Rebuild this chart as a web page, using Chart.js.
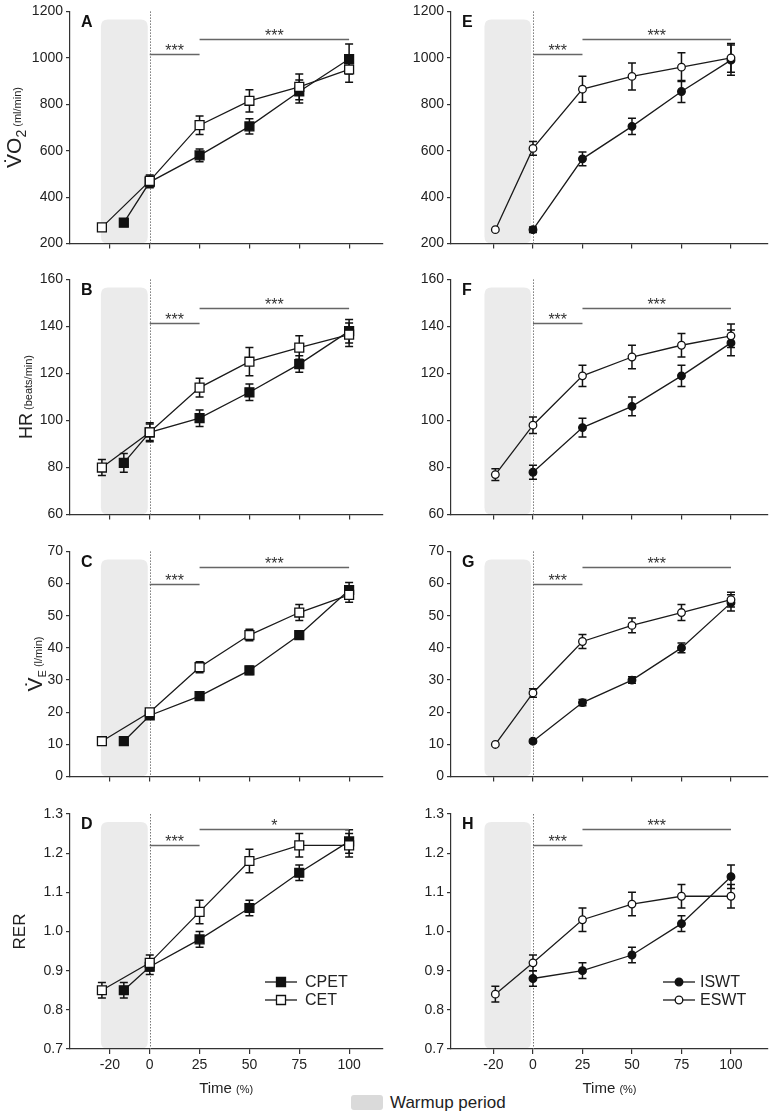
<!DOCTYPE html>
<html>
<head>
<meta charset="utf-8">
<script src="https://cdn.jsdelivr.net/npm/chart.js@4.4.1/dist/chart.umd.min.js"></script>
<style>
    body { margin: 0; background: #fff; }
    #figure { position: relative; width: 776px; height: 1116px; background: #fff; overflow: hidden;
              font-family: 'Liberation Sans', Arial, Helvetica, sans-serif; }
    #figure canvas { position: absolute; }
    .warmup-key { position: absolute; left: 351px; top: 1095px; width: 32px; height: 15px;
                  background: #dadada; border-radius: 3px; }
    .warmup-label { position: absolute; left: 390px; top: 1093px; font-size: 17px; line-height: 20px; color: #222; }
</style>
</head>
<body>
<div id="figure">
    <div class="warmup-key"></div>
    <div class="warmup-label">Warmup period</div>
</div>
<script>
// ===================== DATA =====================
// Time as % of test duration; warmup points sit left of 0
const xTicks = [-20, 0, 25, 50, 75, 100];
const cpetTime = [-13, 0, 25, 50, 75, 100];
const cetTime = [-24, 0, 25, 50, 75, 100];
const iswtTime = [0, 25, 50, 75, 100];
const eswtTime = [-19, 0, 25, 50, 75, 100];
const warmupRange = [-24.5, -1];

// VO2 (ml/min)
const cpetVO2 = [290, 465, 580, 705, 855, 995];
const cpetVO2Err = [0, 25, 27, 33, 50, 65];
const cetVO2 = [270, 470, 710, 815, 875, 950];
const cetVO2Err = [0, 25, 40, 48, 55, 55];
const iswtVO2 = [260, 565, 705, 855, 990];
const iswtVO2Err = [12, 30, 35, 47, 65];
const eswtVO2 = [260, 610, 865, 920, 960, 1000];
const eswtVO2Err = [0, 30, 56, 58, 62, 62];

// HR (beats/min)
const cpetHR = [82, 95, 101, 112, 124, 138];
const cpetHRErr = [4, 3.5, 3.5, 3.5, 3.5, 5];
const cetHR = [80, 95, 114, 125, 131, 136.5];
const cetHRErr = [3.4, 4, 4, 6, 5, 5];
const iswtHR = [78, 97, 106, 119, 133];
const iswtHRErr = [3, 4, 4, 4.5, 5.5];
const eswtHR = [77, 98, 119, 127, 132, 136];
const eswtHRErr = [2.5, 3.5, 4.5, 5, 5, 5];

// VE (l/min)
const cpetVE = [11, 19, 25, 33, 44, 58];
const cpetVEErr = [0, 0.5, 1, 1.3, 1.2, 2.3];
const cetVE = [11, 20, 34, 44, 51, 56.5];
const cetVEErr = [0, 0.8, 1.7, 1.8, 2.5, 2.3];
const iswtVE = [11, 23, 30, 40, 54];
const iswtVEErr = [0.5, 1, 1, 1.5, 2.5];
const eswtVE = [10, 26, 42, 47, 51, 55];
const eswtVEErr = [0, 1.3, 2.2, 2.3, 2.5, 2.3];

// RER
const cpetRER = [0.85, 0.91, 0.98, 1.06, 1.15, 1.23];
const cpetRERErr = [0.02, 0.02, 0.02, 0.02, 0.02, 0.03];
const cetRER = [0.85, 0.92, 1.05, 1.18, 1.22, 1.22];
const cetRERErr = [0.02, 0.02, 0.03, 0.03, 0.03, 0.03];
const iswtRER = [0.88, 0.90, 0.94, 1.02, 1.14];
const iswtRERErr = [0.02, 0.02, 0.02, 0.02, 0.03];
const eswtRER = [0.84, 0.92, 1.03, 1.07, 1.09, 1.09];
const eswtRERErr = [0.02, 0.02, 0.03, 0.03, 0.03, 0.03];

// ===================== LAYOUT =====================
const FONT = "'Liberation Sans', Arial, Helvetica, sans-serif";
const INK = '#1a1a1a';

const columns = [
    { left: 0, width: 390, axisLeft: 70, padRight: 0, xMin: -40, xMax: 116.7 },
    { left: 390, width: 386, axisLeft: 61, padRight: 8, xMin: -41.4, xMax: 118.7 }
];
const rows = [
    { top: 0, padTop: 9, bottom: 245, xHeight: 10 },
    { top: 268, padTop: 10, bottom: 516, xHeight: 10 },
    { top: 540, padTop: 10, bottom: 778, xHeight: 10 },
    { top: 800, padTop: 14, bottom: 1049, xHeight: 67 }
];

function series(label, times, values, errors, filled, shape) {
    return {
        label: label,
        data: times.map((t, i) => ({ x: t, y: values[i] })),
        errors: errors,
        borderColor: INK,
        borderWidth: 1.3,
        tension: 0,
        fill: false,
        pointStyle: shape,
        pointRadius: shape === 'rect' ? 6.3 : 3.8,
        pointBackgroundColor: filled ? '#111' : '#fff',
        pointBorderColor: '#111',
        pointBorderWidth: 1.3,
        order: filled ? 1 : 0
    };
}

const sigA = [{ from: 0, to: 25, y: 1015, label: '***' }, { from: 25, to: 100, y: 1083, label: '***' }];
const sigB = [{ from: 0, to: 25, y: 141.3, label: '***' }, { from: 25, to: 100, y: 148, label: '***' }];
const sigC = [{ from: 0, to: 25, y: 60, label: '***' }, { from: 25, to: 100, y: 65, label: '***' }];
const sigD = [{ from: 0, to: 25, y: 1.221, label: '***' }, { from: 25, to: 100, y: 1.262, label: '*' }];
const sigH = [{ from: 0, to: 25, y: 1.221, label: '***' }, { from: 25, to: 100, y: 1.262, label: '***' }];

const panels = [
    { letter: 'A', col: 0, row: 0, yMin: 200, yMax: 1200, yStep: 200, dec: 0, sig: sigA, titleX: 21,
      title: [{ text: 'V\u0307O', size: 21 }, { text: '2', size: 14, shift: 5 }, { text: ' (ml/min)', size: 11 }],
      datasets: [series('CPET', cpetTime, cpetVO2, cpetVO2Err, true, 'rect'), series('CET', cetTime, cetVO2, cetVO2Err, false, 'rect')] },
    { letter: 'B', col: 0, row: 1, yMin: 60, yMax: 160, yStep: 20, dec: 0, sig: sigB, titleX: 32,
      title: [{ text: 'HR', size: 18 }, { text: ' (beats/min)', size: 11 }],
      datasets: [series('CPET', cpetTime, cpetHR, cpetHRErr, true, 'rect'), series('CET', cetTime, cetHR, cetHRErr, false, 'rect')] },
    { letter: 'C', col: 0, row: 2, yMin: 0, yMax: 70, yStep: 10, dec: 0, sig: sigC, titleX: 42,
      title: [{ text: 'V\u0307', size: 21 }, { text: 'E', size: 11, shift: 4 }, { text: ' (l/min)', size: 11 }],
      datasets: [series('CPET', cpetTime, cpetVE, cpetVEErr, true, 'rect'), series('CET', cetTime, cetVE, cetVEErr, false, 'rect')] },
    { letter: 'D', col: 0, row: 3, yMin: 0.7, yMax: 1.3, yStep: 0.1, dec: 1, sig: sigD, titleX: 25,
      title: [{ text: 'RER', size: 17 }], xTitle: true,
      legend: [{ label: 'CPET', filled: true }, { label: 'CET', filled: false }],
      datasets: [series('CPET', cpetTime, cpetRER, cpetRERErr, true, 'rect'), series('CET', cetTime, cetRER, cetRERErr, false, 'rect')] },
    { letter: 'E', col: 1, row: 0, yMin: 200, yMax: 1200, yStep: 200, dec: 0, sig: sigA,
      datasets: [series('ISWT', iswtTime, iswtVO2, iswtVO2Err, true, 'circle'), series('ESWT', eswtTime, eswtVO2, eswtVO2Err, false, 'circle')] },
    { letter: 'F', col: 1, row: 1, yMin: 60, yMax: 160, yStep: 20, dec: 0, sig: sigB,
      datasets: [series('ISWT', iswtTime, iswtHR, iswtHRErr, true, 'circle'), series('ESWT', eswtTime, eswtHR, eswtHRErr, false, 'circle')] },
    { letter: 'G', col: 1, row: 2, yMin: 0, yMax: 70, yStep: 10, dec: 0, sig: sigC,
      datasets: [series('ISWT', iswtTime, iswtVE, iswtVEErr, true, 'circle'), series('ESWT', eswtTime, eswtVE, eswtVEErr, false, 'circle')] },
    { letter: 'H', col: 1, row: 3, yMin: 0.7, yMax: 1.3, yStep: 0.1, dec: 1, sig: sigH, xTitle: true,
      legend: [{ label: 'ISWT', filled: true }, { label: 'ESWT', filled: false }],
      datasets: [series('ISWT', iswtTime, iswtRER, iswtRERErr, true, 'circle'), series('ESWT', eswtTime, eswtRER, eswtRERErr, false, 'circle')] }
];

// ===================== DRAW HELPERS =====================
const panelInfo = {};

function setFont(ctx, size, bold) {
    ctx.font = (bold ? 'bold ' : '') + size + 'px ' + FONT;
}

// mixed-size text (subscripts, small units), centred on cx / baseline at cy
function drawRichText(ctx, parts, cx, cy, vertical) {
    ctx.save();
    ctx.translate(cx, cy);
    if (vertical) ctx.rotate(-Math.PI / 2);
    ctx.textAlign = 'left';
    ctx.textBaseline = 'alphabetic';
    ctx.fillStyle = '#222';
    let total = 0;
    parts.forEach(p => { setFont(ctx, p.size); total += ctx.measureText(p.text).width; });
    let pos = -total / 2;
    parts.forEach(p => {
        setFont(ctx, p.size);
        ctx.fillText(p.text, pos, p.shift || 0);
        pos += ctx.measureText(p.text).width;
    });
    ctx.restore();
}

function roundedRect(ctx, x, y, w, h, r) {
    ctx.beginPath();
    ctx.moveTo(x + r, y);
    ctx.lineTo(x + w - r, y);
    ctx.quadraticCurveTo(x + w, y, x + w, y + r);
    ctx.lineTo(x + w, y + h - r);
    ctx.quadraticCurveTo(x + w, y + h, x + w - r, y + h);
    ctx.lineTo(x + r, y + h);
    ctx.quadraticCurveTo(x, y + h, x, y + h - r);
    ctx.lineTo(x, y + r);
    ctx.quadraticCurveTo(x, y, x + r, y);
    ctx.closePath();
}

function drawMarker(ctx, x, y, filled, shape) {
    ctx.save();
    ctx.fillStyle = filled ? '#111' : '#fff';
    ctx.strokeStyle = '#111';
    ctx.lineWidth = 1.3;
    ctx.beginPath();
    if (shape === 'rect') ctx.rect(x - 4.5, y - 4.5, 9, 9);
    else ctx.arc(x, y, 3.8, 0, Math.PI * 2);
    ctx.fill();
    ctx.stroke();
    ctx.restore();
}

const panelDecor = {
    id: 'panelDecor',
    beforeDraw(chart) {
        // shaded warmup period
        const { ctx, chartArea: a, scales: { x } } = chart;
        const x0 = x.getPixelForValue(warmupRange[0]);
        const x1 = x.getPixelForValue(warmupRange[1]);
        ctx.save();
        ctx.fillStyle = '#ebebeb';
        roundedRect(ctx, x0, a.top + 8, x1 - x0, a.bottom - a.top - 8, 7);
        ctx.fill();
        ctx.restore();
    },
    beforeDatasetsDraw(chart) {
        const { ctx, chartArea: a, scales: { x, y } } = chart;
        // dotted line at time 0
        const zx = Math.round(x.getPixelForValue(0)) + 0.5;
        ctx.save();
        ctx.strokeStyle = '#777';
        ctx.lineWidth = 1;
        ctx.setLineDash([1.5, 1.5]);
        ctx.beginPath();
        ctx.moveTo(zx, a.top);
        ctx.lineTo(zx, a.bottom);
        ctx.stroke();
        ctx.restore();
        // error bars (SEM)
        ctx.save();
        ctx.strokeStyle = '#111';
        ctx.lineWidth = 1.5;
        chart.data.datasets.forEach(ds => {
            ds.data.forEach((pt, j) => {
                const e = ds.errors[j];
                if (!e) return;
                const px = x.getPixelForValue(pt.x);
                const yt = y.getPixelForValue(pt.y + e);
                const yb = y.getPixelForValue(pt.y - e);
                ctx.beginPath();
                ctx.moveTo(px, yt); ctx.lineTo(px, yb);
                ctx.moveTo(px - 4, yt); ctx.lineTo(px + 4, yt);
                ctx.moveTo(px - 4, yb); ctx.lineTo(px + 4, yb);
                ctx.stroke();
            });
        });
        ctx.restore();
    },
    afterDraw(chart) {
        const info = panelInfo[chart.canvas.id];
        const { ctx, chartArea: a, scales: { x, y } } = chart;
        // significance bars
        info.sig.forEach(s => {
            const sy = Math.round(y.getPixelForValue(s.y)) + 0.5;
            const sx0 = x.getPixelForValue(s.from), sx1 = x.getPixelForValue(s.to);
            ctx.save();
            ctx.strokeStyle = '#666';
            ctx.lineWidth = 1.5;
            ctx.beginPath();
            ctx.moveTo(sx0, sy); ctx.lineTo(sx1, sy);
            ctx.stroke();
            setFont(ctx, 16);
            ctx.fillStyle = '#333';
            ctx.textAlign = 'center';
            ctx.textBaseline = 'alphabetic';
            ctx.fillText(s.label, (sx0 + sx1) / 2, sy + 1);
            ctx.restore();
        });
        // panel letter
        ctx.save();
        setFont(ctx, 16, true);
        ctx.fillStyle = '#111';
        ctx.textAlign = 'left';
        ctx.textBaseline = 'top';
        ctx.fillText(info.letter, a.left + 11, a.top + 3);
        ctx.restore();
        // y title
        if (info.title) drawRichText(ctx, info.title, info.titleX, (a.top + a.bottom) / 2, true);
        // x title
        if (info.xTitle) drawRichText(ctx, [{ text: 'Time ', size: 15 }, { text: '(%)', size: 11 }], (a.left + a.right) / 2, a.bottom + 44, false);
        // legend
        if (info.legend) {
            const shape = info.col === 0 ? 'rect' : 'circle';
            info.legend.forEach((item, k) => {
                const ly = a.top + 168 + k * 18;
                const lx = a.left + (info.col === 0 ? 195 : 212);
                ctx.save();
                ctx.strokeStyle = INK;
                ctx.lineWidth = 1.3;
                ctx.beginPath();
                ctx.moveTo(lx, ly); ctx.lineTo(lx + 32, ly);
                ctx.stroke();
                ctx.restore();
                drawMarker(ctx, lx + 16, ly, item.filled, shape);
                ctx.save();
                setFont(ctx, 16);
                ctx.fillStyle = '#222';
                ctx.textAlign = 'left';
                ctx.textBaseline = 'middle';
                ctx.fillText(item.label, lx + (info.col === 0 ? 40 : 37), ly + 1);
                ctx.restore();
            });
        }
    }
};

// ===================== BUILD CHARTS =====================
function axisStyle(tickLength) {
    return {
        grid: { display: true, drawOnChartArea: false, drawTicks: true, tickLength: tickLength, color: '#333', lineWidth: 1.2 },
        border: { display: true, color: '#333', width: 1.2 }
    };
}

function buildPanel(p) {
    const col = columns[p.col];
    const row = rows[p.row];
    const isBottom = p.row === rows.length - 1;
    const canvas = document.createElement('canvas');
    canvas.id = 'panel' + p.letter;
    canvas.width = col.width;
    canvas.height = row.bottom - row.top + row.xHeight;
    canvas.style.left = col.left + 'px';
    canvas.style.top = row.top + 'px';
    document.getElementById('figure').appendChild(canvas);
    panelInfo[canvas.id] = p;

    new Chart(canvas, {
        type: 'line',
        data: { datasets: p.datasets },
        options: {
            responsive: false,
            animation: false,
            devicePixelRatio: 1,
            layout: { padding: { top: row.padTop, right: col.padRight, bottom: 0, left: 0 } },
            plugins: { legend: { display: false }, tooltip: { enabled: false } },
            scales: {
                x: Object.assign({
                    type: 'linear',
                    min: col.xMin,
                    max: col.xMax,
                    afterBuildTicks: s => { s.ticks = xTicks.map(v => ({ value: v })); },
                    afterFit: s => { s.height = row.xHeight; },
                    ticks: { display: isBottom, font: { family: FONT, size: 14 }, color: '#222', padding: 3,
                             callback: v => String(v) }
                }, axisStyle(5)),
                y: Object.assign({
                    type: 'linear',
                    min: p.yMin,
                    max: p.yMax,
                    afterFit: s => { s.width = col.axisLeft; },
                    ticks: { stepSize: p.yStep, font: { family: FONT, size: 14 }, color: '#222', padding: 3,
                             callback: v => Number(v).toFixed(p.dec) }
                }, axisStyle(4))
            }
        },
        plugins: [panelDecor]
    });
}

panels.forEach(buildPanel);
</script>
</body>
</html>
